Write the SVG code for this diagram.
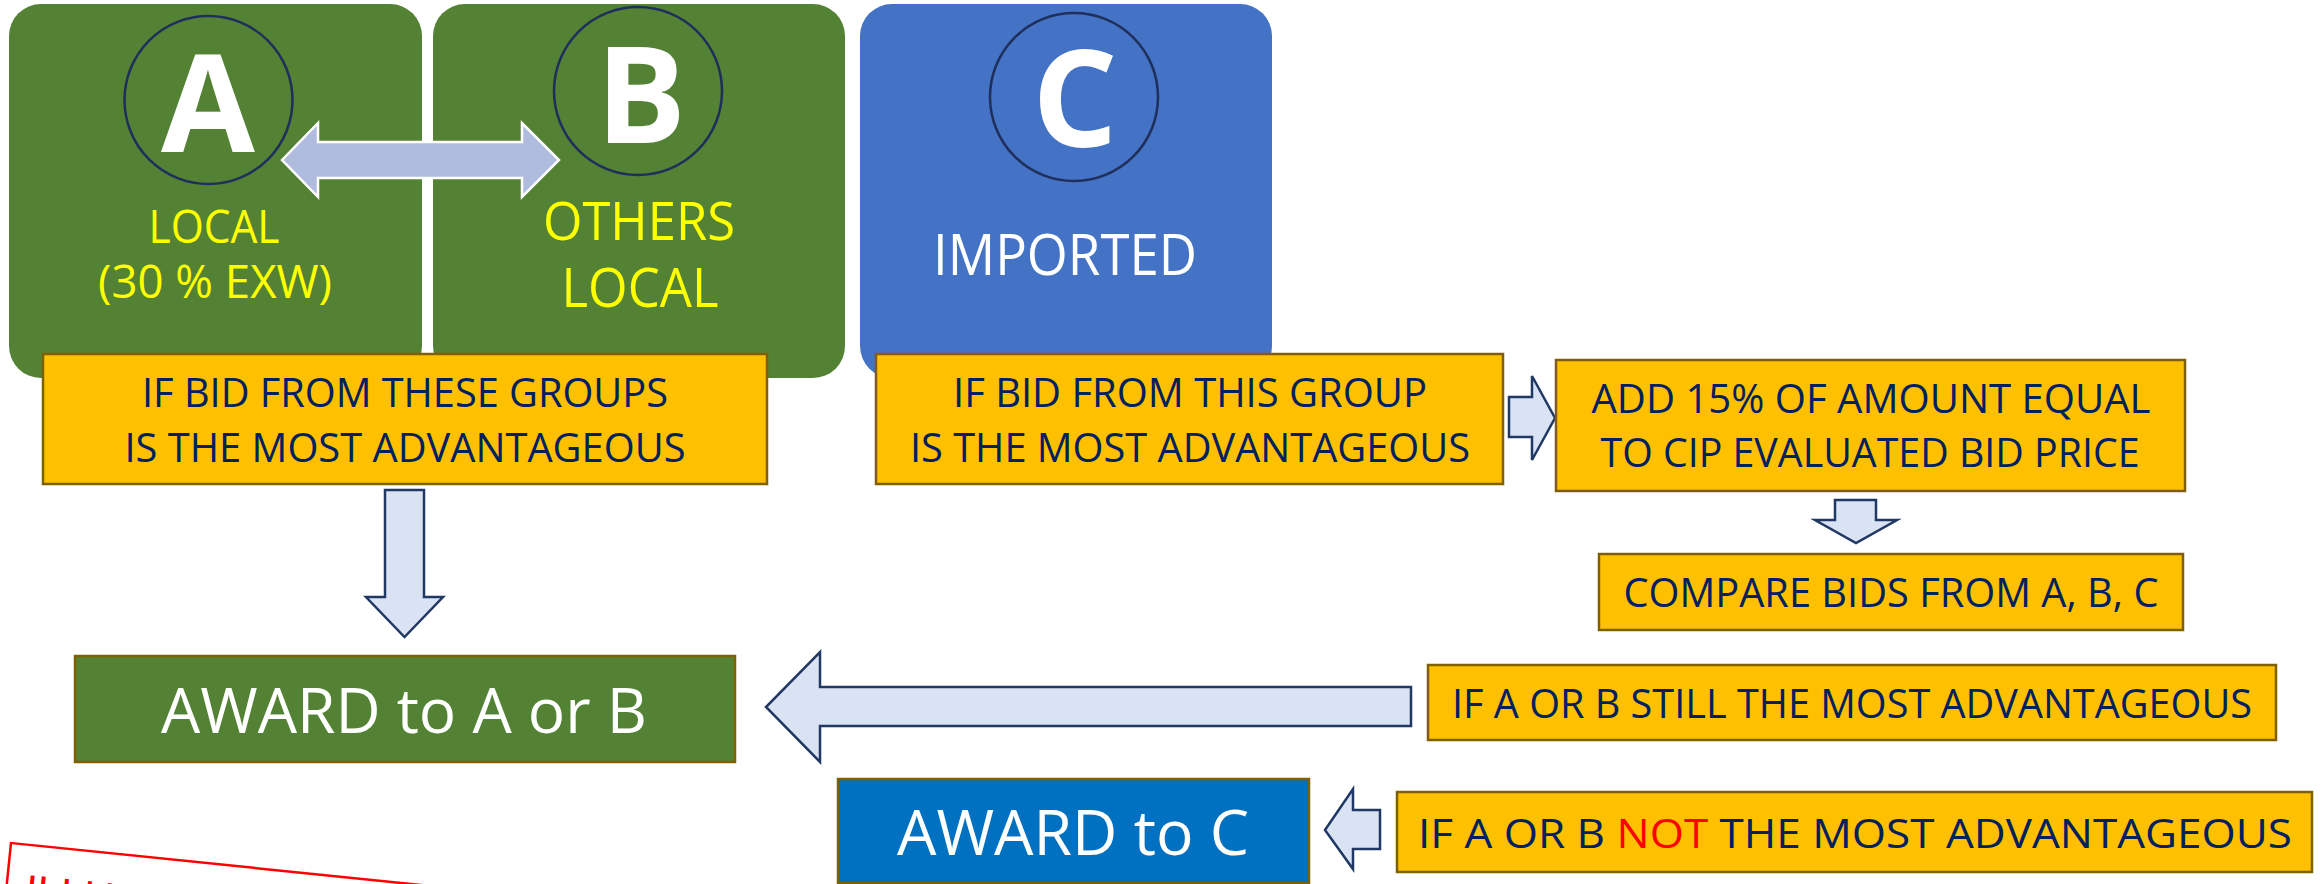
<svg xmlns="http://www.w3.org/2000/svg" width="2323" height="884" viewBox="0 0 2323 884">
<style>
.grp{fill:#548235}
.grpC{fill:#4472C4}
.ring{fill:none;stroke:#1F2F5C;stroke-width:2.5}
.big{font-family:"Open Sans","Liberation Sans",sans-serif;font-weight:bold;fill:#FFFFFF;text-anchor:middle}
.lbl{font-family:"Open Sans","Liberation Sans",sans-serif;text-anchor:middle}
.yel{fill:#FFFF00}
.wht{fill:#FFFFFF}
.box{fill:#FFC000;stroke:#7F6000;stroke-width:2.5}
.bt{font-family:"Open Sans","Liberation Sans",sans-serif;font-size:40px;fill:#002060;text-anchor:middle}
.arr{fill:#DAE3F3;stroke:#203864;stroke-width:2.5;stroke-linejoin:miter}
.darr{fill:#AFBCDD;stroke:#FFFFFF;stroke-width:2.5}
.award{font-family:"Open Sans","Liberation Sans",sans-serif;font-size:63px;fill:#FFFFFF;text-anchor:middle}
</style>

<g id="groupA">
<rect class="grp" x="9" y="4" width="413" height="374" rx="32" ry="32"/>
<circle class="ring" cx="208.5" cy="100" r="84"/>
<text class="big" x="208" y="152" font-size="136">A</text>
<text class="lbl yel" x="214" y="243" font-size="46" textLength="131" lengthAdjust="spacingAndGlyphs">LOCAL</text>
<text class="lbl yel" x="215" y="298" font-size="45" textLength="234" lengthAdjust="spacingAndGlyphs">(30 % EXW)</text>
</g>

<g id="groupB">
<rect class="grp" x="433" y="4" width="412" height="374" rx="32" ry="32"/>
<circle class="ring" cx="638" cy="91" r="84"/>
<text class="big" x="641" y="143" font-size="134">B</text>
<text class="lbl yel" x="639" y="240" font-size="53" textLength="192" lengthAdjust="spacingAndGlyphs">OTHERS</text>
<text class="lbl yel" x="640" y="307" font-size="54" textLength="157" lengthAdjust="spacingAndGlyphs">LOCAL</text>
</g>

<g id="groupC">
<rect class="grpC" x="860" y="4" width="412" height="374" rx="32" ry="32"/>
<circle class="ring" cx="1074" cy="97" r="84"/>
<text class="big" x="1075" y="147" font-size="134">C</text>
<text class="lbl wht" x="1065" y="275" font-size="56" textLength="264" lengthAdjust="spacingAndGlyphs">IMPORTED</text>
</g>

<g id="connectors">
<polygon class="darr" points="282,160 318,123 318,142 522,142 522,123 559,160 522,197 522,178 318,178 318,197"/>
<polygon class="arr" points="385,490 424,490 424,597 443,597 404.5,637 366,597 385,597"/>
<polygon class="arr" points="1509,397 1532,397 1532,376 1555,418 1532,460 1532,437 1509,437"/>
<polygon class="arr" points="1835,500 1876,500 1876,520 1897,520 1856,543 1815,520 1835,520"/>
<polygon class="arr" points="1411,687 1411,726 820,726 820,762 766,707 820,652 820,687"/>
<polygon class="arr" points="1380,810 1380,849 1353,849 1353,869 1325,830 1353,789 1353,810"/>
</g>

<g id="condAB">
<rect class="box" x="43" y="354" width="724" height="130"/>
<text class="bt" x="405" y="407" textLength="526" lengthAdjust="spacingAndGlyphs">IF BID FROM THESE GROUPS</text>
<text class="bt" x="405" y="462" textLength="561" lengthAdjust="spacingAndGlyphs">IS THE MOST ADVANTAGEOUS</text>
</g>

<g id="condC">
<rect class="box" x="876" y="354" width="627" height="130"/>
<text class="bt" x="1190" y="407" textLength="474" lengthAdjust="spacingAndGlyphs">IF BID FROM THIS GROUP</text>
<text class="bt" x="1190" y="462" textLength="560" lengthAdjust="spacingAndGlyphs">IS THE MOST ADVANTAGEOUS</text>
</g>

<g id="add15">
<rect class="box" x="1556" y="360" width="629" height="131"/>
<text class="bt" x="1871" y="413" font-size="41" textLength="559" lengthAdjust="spacingAndGlyphs">ADD 15% OF AMOUNT EQUAL</text>
<text class="bt" x="1870" y="467" font-size="41" textLength="539" lengthAdjust="spacingAndGlyphs">TO CIP EVALUATED BID PRICE</text>
</g>

<g id="compare">
<rect class="box" x="1599" y="554" width="584" height="76"/>
<text class="bt" x="1891" y="607" textLength="535" lengthAdjust="spacingAndGlyphs">COMPARE BIDS FROM A, B, C</text>
</g>

<g id="stillAB">
<rect class="box" x="1428" y="665" width="848" height="75"/>
<text class="bt" x="1852" y="718" textLength="800" lengthAdjust="spacingAndGlyphs">IF A OR B STILL THE MOST ADVANTAGEOUS</text>
</g>

<g id="notAB">
<rect class="box" x="1397" y="792" width="915" height="80"/>
<text class="bt" x="1855" y="848" font-size="46" textLength="874" lengthAdjust="spacingAndGlyphs">IF A OR B <tspan fill="#FF0000">NOT</tspan> THE MOST ADVANTAGEOUS</text>
</g>

<g id="awardAB">
<rect x="75" y="656" width="660" height="106" fill="#548235" stroke="#7F6000" stroke-width="2.5"/>
<text class="award" x="404" y="733" textLength="486" lengthAdjust="spacingAndGlyphs">AWARD to A or B</text>
</g>

<g id="awardC">
<rect x="838" y="779" width="471" height="104" fill="#0070C0" stroke="#7F6000" stroke-width="2.5"/>
<text class="award" x="1073" y="855" textLength="352" lengthAdjust="spacingAndGlyphs">AWARD to C</text>
</g>

<g id="stamp" transform="rotate(5.85 11 843)">
<rect x="11" y="843" width="600" height="160" fill="#FFFFFF" stroke="#FF0000" stroke-width="2.5"/>
<text x="30" y="902" font-family="Liberation Sans, Arial, sans-serif" font-size="42" fill="#FF0000">ILLUS</text>
</g>
</svg>
